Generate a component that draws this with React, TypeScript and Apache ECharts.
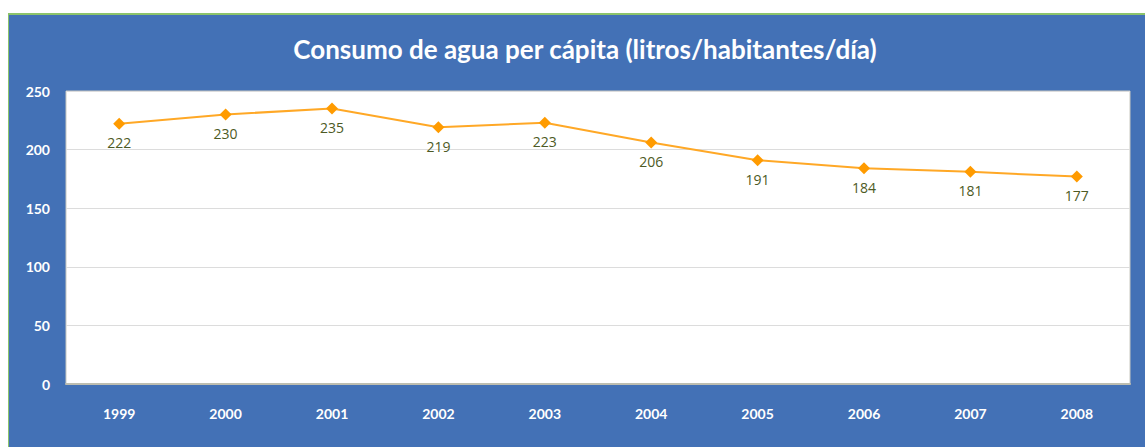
import React, { useEffect, useRef } from "react";
import * as echarts from "echarts";

const years = ["1999", "2000", "2001", "2002", "2003", "2004", "2005", "2006", "2007", "2008"];
const consumo = [222, 230, 235, 219, 223, 206, 191, 184, 181, 177];
const titleText = "Consumo de agua per cápita (litros/habitantes/día)";

export default function App() {
  const ref = useRef<HTMLDivElement>(null);
  useEffect(() => {
    if (!ref.current) return;
    const chart = echarts.init(ref.current, null, { renderer: "svg" });
    chart.setOption({
      animation: false,
      backgroundColor: "#ffffff",
      graphic: [
        { type: "rect", shape: { x: 8, y: 13, width: 1137, height: 434 }, style: { fill: "#8cc36a" }, z: -10 },
        { type: "rect", shape: { x: 9, y: 15, width: 1136, height: 432 }, style: { fill: "#4371b6" }, z: -9 },
      ],
      title: {
        text: titleText,
        left: 580,
        top: 31,
        textAlign: "center",
        textStyle: { color: "#ffffff", fontFamily: "Lato", fontWeight: "bold", fontSize: 26 },
      },
      grid: {
        left: 66,
        right: 15,
        top: 91,
        bottom: 63,
        show: true,
        backgroundColor: "#ffffff",
        borderColor: "#c8c8c0",
        borderWidth: 1,
      },
      xAxis: {
        type: "category",
        data: years,
        boundaryGap: true,
        axisLine: { show: true, lineStyle: { color: "#bdbdb0", width: 2 } },
        axisTick: { show: false },
        axisLabel: { color: "#ffffff", fontWeight: "bold", fontFamily: "Lato", fontSize: 14, margin: 22 },
      },
      yAxis: {
        type: "value",
        min: 0,
        max: 250,
        interval: 50,
        axisLine: { show: false },
        axisTick: { show: false },
        splitLine: { lineStyle: { color: "#dcdcdc", width: 1 } },
        axisLabel: { color: "#ffffff", fontWeight: "bold", fontFamily: "Lato", fontSize: 14, margin: 16 },
      },
      series: [
        {
          type: "line",
          data: consumo,
          symbol: "diamond",
          symbolSize: 12,
          itemStyle: { color: "#ff9b00" },
          lineStyle: { color: "#ffa826", width: 2 },
          label: {
            show: true,
            position: "bottom",
            distance: 6,
            color: "#4d5a24",
            fontFamily: "Open Sans",
            fontSize: 14,
          },
        },
      ],
    });
    return () => chart.dispose();
  }, []);
  return <div ref={ref} style={{ position: "absolute", left: 0, top: 0, width: 1145, height: 447 }} />;
}
